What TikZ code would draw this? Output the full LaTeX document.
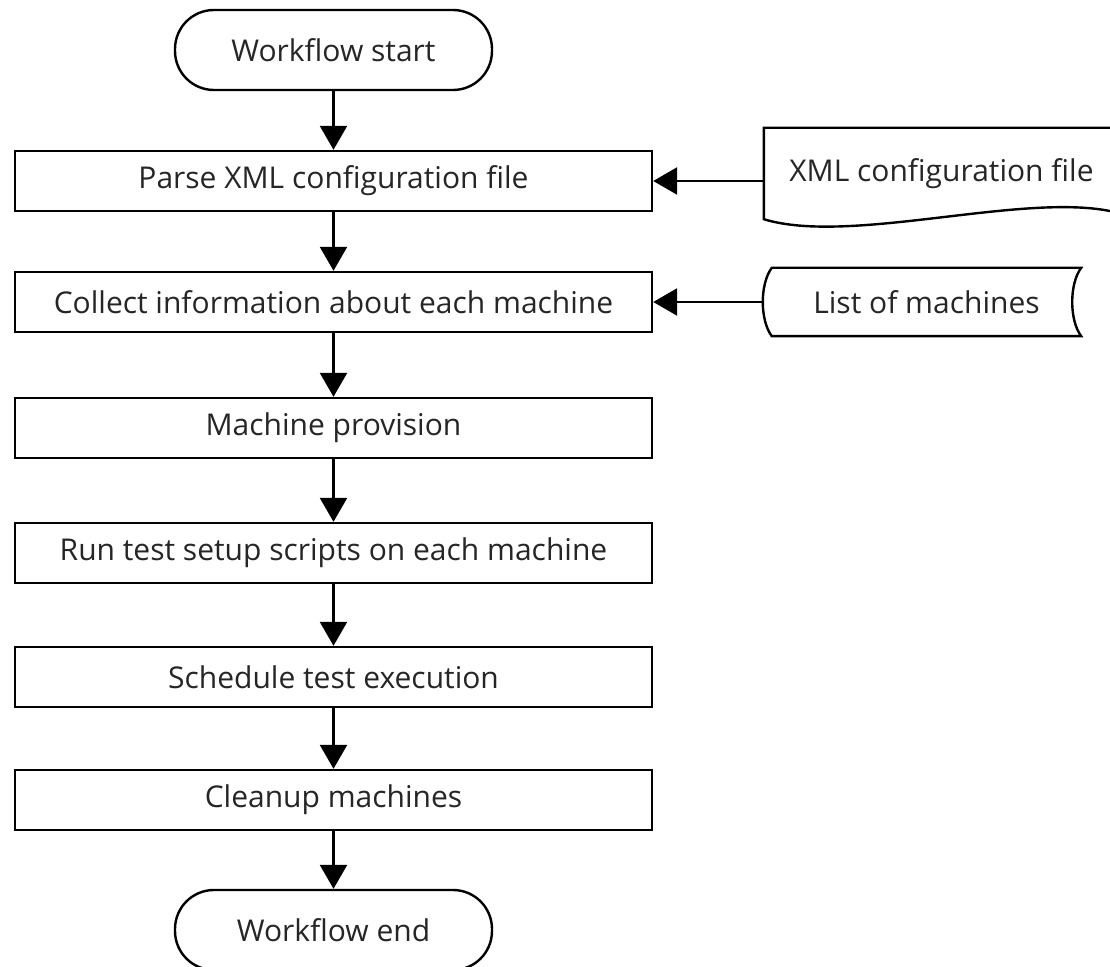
\documentclass[tikz,border=0pt]{standalone}
\usepackage{fontspec}
\setmainfont{Open Sans}
\usetikzlibrary{arrows.meta}

\begin{document}
\begin{tikzpicture}[x=0.5pt,y=-0.5pt]

% Colours
\definecolor{lineBlack}{HTML}{000000}
\definecolor{textGray}{HTML}{262626}

% Box sizes
\def\bw{318.5pt}
\def\bh{30pt}

\tikzset{
  base/.style={line width=1.2pt, text=textGray, inner sep=0pt,
    font=\fontsize{15}{18}\selectfont},
  procBox/.style={base, draw=lineBlack, fill=white, rectangle,
    minimum width=\bw, minimum height=\bh},
  termBox/.style={base, draw=lineBlack, fill=white, rectangle,
    rounded corners=19.5pt, minimum width=158.5pt, minimum height=40pt},
  dataBox/.style={base, draw=none},
  shapeLine/.style={lineBlack, line width=1.2pt},
  flow/.style={lineBlack, line width=1.3pt, -{Triangle[length=12pt,width=13.5pt]}}
}

\useasboundingbox (0,0) rectangle (1110,967);

% Start / end
\node[termBox] (start) at (333.5,50) {Workflow start};
\node[termBox] (stop) at (333.5,930) {Workflow end};

% Steps
\node[procBox] (p1) at (333.5,181) {Parse XML configuration file};
\node[procBox] (p2) at (333.5,302) {Collect information about each machine};
\node[procBox] (p3) at (333.5,428) {Machine provision};
\node[procBox] (p4) at (333.5,553) {Run test setup scripts on each machine};
\node[procBox] (p5) at (333.5,677) {Schedule test execution};
\node[procBox] (p6) at (333.5,800) {Cleanup machines};

% Inputs
\node[dataBox, minimum width=176.5pt, minimum height=44.5pt] (xml) at (941.5,173.5) {XML configuration file};
\draw[shapeLine] (xml.south west) -- (xml.north west) -- (xml.north east)
  -- ([yshift=3pt]xml.south east) .. controls +(-88,-24) and +(88,27) .. (xml.south west) -- cycle;

\node[dataBox, minimum width=153.5pt, minimum height=33pt] (lst) at (926.5,302) {List of machines};
\draw[shapeLine] (lst.north west) -- (lst.north east)
  .. controls +(-12,16) and +(-12,-16) .. (lst.south east) -- (lst.south west)
  .. controls +(-12,-16) and +(-12,16) .. (lst.north west) -- cycle;

% Connectors
\draw[flow] (start) -- (p1);
\draw[flow] (p1) -- (p2);
\draw[flow] (p2) -- (p3);
\draw[flow] (p3) -- (p4);
\draw[flow] (p4) -- (p5);
\draw[flow] (p5) -- (p6);
\draw[flow] (p6) -- (stop);
\draw[flow] (xml.west |- p1.east) -- (p1.east);
\draw[flow] ([xshift=-4.5pt]lst.west) -- (p2.east);

\end{tikzpicture}
\end{document}
